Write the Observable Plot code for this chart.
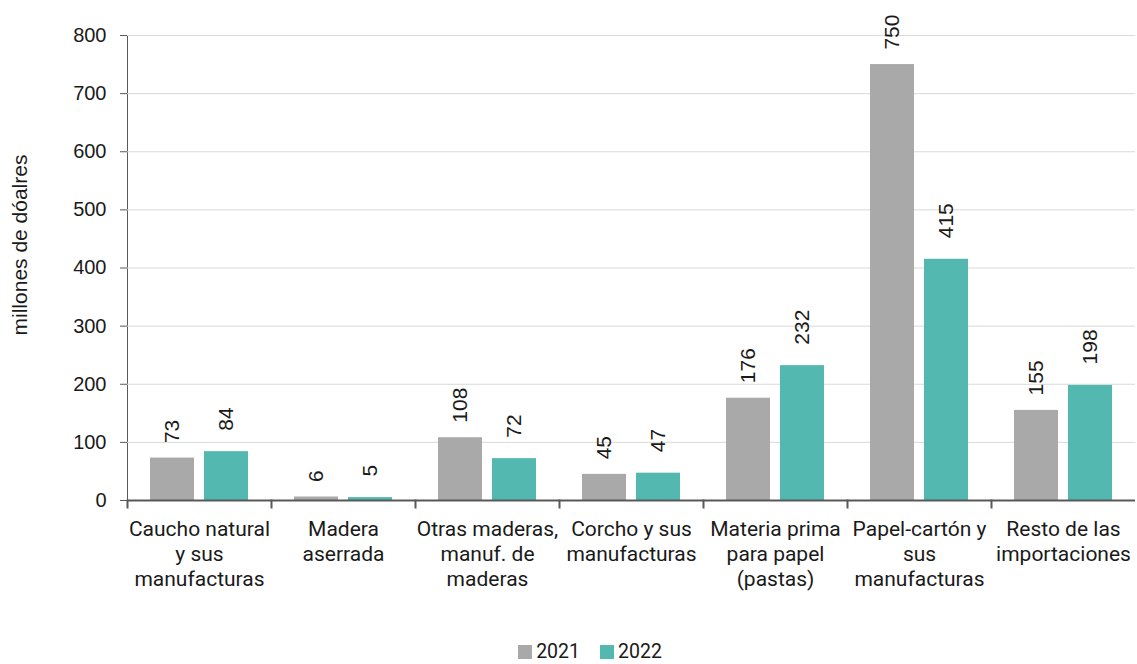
<!DOCTYPE html>
<html>
<head>
<meta charset="utf-8">
<script src="https://cdn.jsdelivr.net/npm/d3@7"></script>
<script src="https://cdn.jsdelivr.net/npm/@observablehq/plot@0.6"></script>
<style>
  html, body { margin: 0; padding: 0; background: #fff; }
  #chart { position: relative; width: 1137px; height: 664px; }
  #legend { position: absolute; left: 0; top: 642px; width: 1180px; height: 20px; line-height: 20px; display: flex; justify-content: center; gap: 20px;
            font-family: Roboto, sans-serif; font-size: 19.5px; color: #1a1a1a; }
  #legend span.item { display: flex; align-items: center; gap: 4px; }
  #legend span.sw { display: inline-block; width: 14px; height: 14px; }
  #ylabel { position: absolute; left: 20px; top: 245px; transform: translate(-50%, -50%) rotate(-90deg);
            white-space: nowrap; font-family: 'Liberation Sans', Arial, sans-serif; font-size: 21px; line-height: 24px; color: #1a1a1a; }
  g[aria-label="y-axis tick label"] { fill: #1a1a1a; font-size: 20px; font-family: 'Liberation Sans', Arial, sans-serif; }
</style>
</head>
<body>
<div id="chart"></div>
<script>
const categories = ["Caucho natural\ny sus\nmanufacturas", "Madera\naserrada", "Otras maderas,\nmanuf. de\nmaderas", "Corcho y sus\nmanufacturas", "Materia prima\npara papel\n(pastas)", "Papel-cartón y\nsus\nmanufacturas", "Resto de las\nimportaciones"];
const years = ["2021", "2022"];
const values2021 = [73, 6, 108, 45, 176, 750, 155];
const values2022 = [84, 5, 72, 47, 232, 415, 198];
const yTicks = [0, 100, 200, 300, 400, 500, 600, 700, 800];
const yLabel = "millones de dóalres";
const colors = ["#a9a9a9", "#52b8b0"];

const data = categories.flatMap((c, i) => [
  {cat: c, year: "2021", value: values2021[i]},
  {cat: c, year: "2022", value: values2022[i]}
]);

const axisColor = "#595959";

const chart = Plot.plot({
  width: 1137,
  height: 630,
  marginLeft: 125,
  marginRight: 0,
  marginTop: 35,
  marginBottom: 130,
  style: {fontFamily: "'Liberation Sans', Arial, sans-serif", fontSize: "20px", color: axisColor, background: "#fff"},
  fx: {domain: categories, padding: 0, axis: null},
  x: {domain: years, paddingInner: 0.18, paddingOuter: 0.42, axis: null},
  y: {domain: [0, 800], ticks: yTicks, tickSize: 7, tickPadding: 14, label: null, line: true},
  color: {domain: years, range: colors},
  marks: [
    Plot.gridY(yTicks, {stroke: "#d9d9d9", strokeOpacity: 1}),
    Plot.barY(data, {fx: "cat", x: "year", y: "value", fill: "year"}),
    Plot.text(data.filter(d => d.year === "2021"), {fx: "cat", x: "year", y: "value", text: d => String(d.value), rotate: -90, textAnchor: "start", dy: -15, fill: "#1a1a1a", fontSize: 21}),
    Plot.text(data.filter(d => d.year === "2022"), {fx: "cat", x: "year", y: "value", text: d => String(d.value), rotate: -90, textAnchor: "start", dy: -21, fill: "#1a1a1a", fontSize: 21}),
    Plot.ruleY([0], {stroke: axisColor, strokeWidth: 2}),
    Plot.frame({anchor: "left", insetTop: 465, insetBottom: -7, stroke: axisColor, strokeWidth: 2}),
    Plot.text(categories, {fx: d => d, text: d => d, frameAnchor: "bottom", lineAnchor: "top", dy: 17, lineHeight: 1.21, fontFamily: "Roboto, sans-serif", fontSize: 21, fill: "#1a1a1a"})
  ]
});

const el = document.getElementById("chart");
el.appendChild(chart);
const yl = document.createElement("div");
yl.id = "ylabel";
yl.textContent = yLabel;
el.appendChild(yl);
const legend = document.createElement("div");
legend.id = "legend";
legend.innerHTML = years.map((y, i) => `<span class="item"><span class="sw" style="background:${colors[i]}"></span>${y}</span>`).join("");
el.appendChild(legend);
</script>
</body>
</html>
